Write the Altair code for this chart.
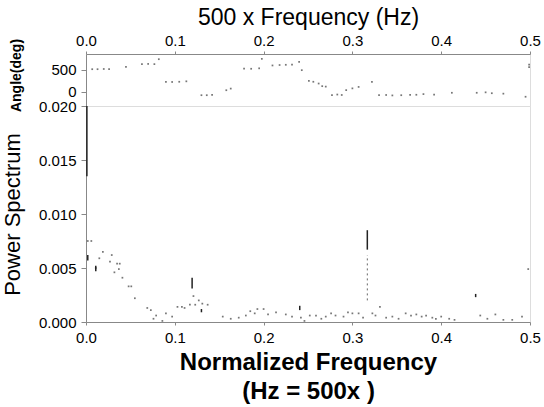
import altair as alt
import pandas as pd

# ---- Power spectrum (scattered trace points) ----
ps_freq = [0.002, 0.006, 0.011, 0.015, 0.019, 0.027, 0.029, 0.032, 0.035, 0.037,
           0.038, 0.041, 0.048, 0.051, 0.055, 0.069, 0.073, 0.076, 0.079, 0.086,
           0.090, 0.097, 0.103, 0.108, 0.111, 0.117, 0.121, 0.123, 0.127, 0.131,
           0.137, 0.154, 0.163, 0.172, 0.180, 0.185, 0.190, 0.193, 0.200, 0.205,
           0.214, 0.225, 0.232, 0.242, 0.246, 0.252, 0.259, 0.265, 0.270, 0.276,
           0.281, 0.290, 0.295, 0.300, 0.307, 0.312, 0.3225, 0.326, 0.331, 0.338,
           0.345, 0.352, 0.360, 0.366, 0.372, 0.378, 0.383, 0.390, 0.394, 0.400,
           0.409, 0.415, 0.444, 0.452, 0.461, 0.470, 0.480, 0.491, 0.498]
ps_power = [0.0075, 0.0075, 0.0050, 0.0059, 0.0065, 0.0056, 0.0062, 0.0046, 0.0054, 0.0049,
            0.0054, 0.0041, 0.0033, 0.0033, 0.0022, 0.0013, 0.0011, 0.0003, 0.0006, 0.0001,
            0.0008, 0.0005, 0.0014, 0.0014, 0.0013, 0.0016, 0.0024, 0.0016, 0.0020, 0.0017,
            0.0016, 0.0005, 0.0003, 0.0004, 0.0006, 0.0010, 0.0008, 0.0012, 0.0012, 0.0007,
            0.0009, 0.0007, 0.0005, 0.0004, 0.0001, 0.0006, 0.0006, 0.0003, 0.0005, 0.0008,
            0.0006, 0.0005, 0.0009, 0.0008, 0.0008, 0.0004, 0.0008, 0.0006, 0.0014, 0.0004,
            0.0005, 0.0003, 0.0008, 0.0006, 0.0007, 0.0005, 0.0006, 0.0004, 0.0003, 0.0005,
            0.0003, 0.0002, 0.0006, 0.0003, 0.0007, 0.0002, 0.0002, 0.0005, 0.0049]

# ---- vertical spike segments of the spectrum ----
spike_freq = [0.001, 0.002, 0.011, 0.1195, 0.130, 0.2407, 0.3168, 0.4388]
spike_low = [0.0135, 0.0057, 0.0047, 0.0031, 0.0009, 0.0011, 0.0067, 0.0023]
spike_high = [0.0200, 0.0062, 0.0052, 0.0041, 0.0012, 0.0015, 0.0085, 0.0026]
faint_freq = [0.3168]
faint_low = [0.0020]
faint_high = [0.0062]

# ---- Phase angle (deg) ----
ang_freq = [0.007, 0.013, 0.020, 0.026, 0.045, 0.063, 0.070, 0.077, 0.082, 0.090,
            0.097, 0.105, 0.113, 0.130, 0.136, 0.142, 0.158, 0.163, 0.178, 0.186,
            0.195, 0.198, 0.210, 0.218, 0.225, 0.232, 0.240, 0.243, 0.251, 0.256,
            0.262, 0.266, 0.270, 0.277, 0.283, 0.288, 0.293, 0.300, 0.307, 0.322,
            0.330, 0.338, 0.345, 0.355, 0.365, 0.372, 0.380, 0.392, 0.412, 0.440,
            0.450, 0.457, 0.470, 0.495, 0.499, 0.499]
ang_deg = [515, 515, 520, 515, 568, 630, 635, 630, 742, 227,
           225, 230, 240, -75, -75, -70, 38, 75, 530, 525,
           535, 750, 600, 610, 615, 620, 680, 493, 250, 230,
           190, 130, 120, -75, -60, -70, 40, 80, 113, 227,
           -75, -70, -80, -75, -70, -65, -50, -60, -20, -20,
           -10, -30, -40, -110, 560, 620]

x_ticks = [0.0, 0.1, 0.2, 0.3, 0.4, 0.5]
ps_ticks = [0.000, 0.005, 0.010, 0.015, 0.020]
ang_ticks = [0, 500]

ps_df = pd.DataFrame({"f": ps_freq, "p": ps_power})
sp_df = pd.DataFrame({"f": spike_freq, "lo": spike_low, "hi": spike_high})
fs_df = pd.DataFrame({"f": faint_freq, "lo": faint_low, "hi": faint_high})
ang_df = pd.DataFrame({"f": ang_freq, "a": ang_deg})

FONT = "Liberation Sans"
W = 444
xscale = alt.Scale(domain=[0, 0.5], nice=False, zero=False)

top_x = alt.X("f:Q", scale=xscale,
              axis=alt.Axis(orient="top", values=x_ticks, format=".1f",
                            title="500 x Frequency (Hz)", titleFontSize=23,
                            titleFontWeight="normal", titlePadding=4,
                            labelFontSize=15, labelPadding=3, tickSize=3,
                            labelFlush=False, labelOverlap=False, grid=False))
top_y = alt.Y("a:Q", scale=alt.Scale(domain=[-320, 860], nice=False, zero=False),
              axis=alt.Axis(values=ang_ticks, title="Angle(deg)", titleFontSize=14,
                            titleFontWeight="bold", titleX=-63, titleY=21,
                            labelFontSize=15, labelPadding=5, tickSize=5, grid=False))

top = alt.Chart(ang_df).mark_square(size=3, color="#555", opacity=0.8).encode(
    x=top_x, y=top_y
).properties(width=W, height=52)

bot_x = alt.X("f:Q", scale=xscale,
              axis=alt.Axis(values=x_ticks, format=".1f",
                            title=["Normalized Frequency", "(Hz = 500x )"],
                            titleFontSize=24, titleFontWeight="bold",
                            titleLineHeight=29, titlePadding=5,
                            labelFontSize=15, labelPadding=5, tickSize=3,
                            labelFlush=False, labelOverlap=False, grid=False))
bot_y = alt.Y("p:Q", scale=alt.Scale(domain=[0, 0.02], nice=False),
              axis=alt.Axis(values=ps_ticks, format=".3f", title="Power Spectrum",
                            titleFontSize=22, titleFontWeight="normal", titleX=-62,
                            labelFontSize=15, labelPadding=5, tickSize=5, grid=False))

pts = alt.Chart(ps_df).mark_square(size=3, color="#555", opacity=0.8).encode(x=bot_x, y=bot_y)
spikes = alt.Chart(sp_df).mark_rule(color="#222", strokeWidth=1.5).encode(
    x="f:Q", y="lo:Q", y2="hi:Q")
faint = alt.Chart(fs_df).mark_rule(color="#666", strokeWidth=1, strokeDash=[2, 3]).encode(
    x="f:Q", y="lo:Q", y2="hi:Q")

bottom = alt.layer(pts, spikes, faint).properties(width=W, height=216)

chart = alt.vconcat(top, bottom, spacing=0, bounds="flush").properties(
    padding={"left": 0, "top": 5, "right": 0, "bottom": 2}
).configure_axis(
    labelFont=FONT, titleFont=FONT, labelColor="#000", titleColor="#000",
    domainColor="#888", domainDash=[1, 1], tickColor="#333"
).configure_view(
    stroke="#888", strokeDash=[1, 1]
).configure(background="white")

chart.save("out.html", embed_options={"renderer": "svg", "actions": False})
